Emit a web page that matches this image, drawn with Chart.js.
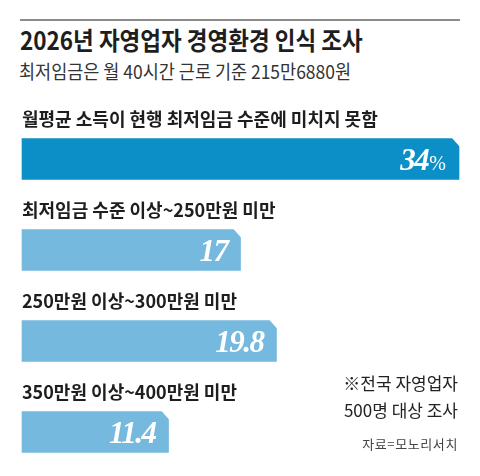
<!DOCTYPE html>
<html><head><meta charset="utf-8">
<script src="https://cdn.jsdelivr.net/npm/chart.js@4/dist/chart.umd.min.js"></script>
<style>
html,body{margin:0;padding:0;background:#fff;width:480px;height:476px;overflow:hidden;font-family:"Noto Sans CJK KR",sans-serif;}
#wrap{position:relative;width:480px;height:476px;}
#rule{position:absolute;left:20px;top:19px;width:440px;height:2px;background:#8c8c8c;}
.t{position:absolute;white-space:nowrap;transform-origin:left top;}
#title{left:20px;top:23px;font-size:25px;font-weight:700;color:#1e1e1e;line-height:33px;transform:scaleX(0.9);}
#sub{left:19px;top:57px;font-size:19px;color:#333;line-height:27px;transform:scaleX(0.92);}
#note{position:absolute;right:22px;top:369px;text-align:right;font-size:17px;line-height:27px;color:#222;}
#src{position:absolute;right:22px;top:434px;font-size:13px;letter-spacing:0.6px;color:#444;}
canvas{position:absolute;left:0;top:0;}
</style></head>
<body><div id="wrap">
<div id="rule"></div>
<div id="title" class="t">2026년 자영업자 경영환경 인식 조사</div>
<div id="sub" class="t">최저임금은 월 40시간 근로 기준 215만6880원</div>
<canvas id="c" width="480" height="476"></canvas>
<div id="note">※전국 자영업자<br>500명 대상 조사</div>
<div id="src">자료=모노리서치</div>
</div>
<script>
const categories = ['월평균 소득이 현행 최저임금 수준에 미치지 못함', '최저임금 수준 이상~250만원 미만', '250만원 이상~300만원 미만', '350만원 이상~400만원 미만'];
const shares = [34, 17, 19.8, 11.4];
const unitOnFirst = '%';

const DARK = '#0b8fc6', LIGHT = '#75b9de';

const valuePlugin = {
  id: 'values',
  beforeDraw(chart) { chart.ctx.letterSpacing = '0px'; },
  afterDatasetsDraw(chart) {
    const c = chart.ctx;
    const meta = chart.getDatasetMeta(0);
    meta.data.forEach((bar, i) => {
      const top = bar.y - bar.height / 2;
      c.save();
      c.fillStyle = '#fff';
      c.beginPath();
      c.moveTo(bar.x - 7.5, top - 1);
      c.lineTo(bar.x + 1, top - 1);
      c.lineTo(bar.x + 1, top + 8.5);
      c.closePath();
      c.fill();
      c.fillStyle = '#fff';
      c.textBaseline = 'alphabetic';
      c.textAlign = 'right';
      let xr = bar.x - 13;
      const base = bar.y + 11;
      if (i === 0) {
        c.font = '20px "Liberation Serif"';
        c.letterSpacing = '0px';
        c.fillText(unitOnFirst, xr, base);
        xr -= c.measureText(unitOnFirst).width + 1;
      }
      c.letterSpacing = '-1.5px';
      c.font = 'italic bold 31px "Liberation Serif"';
      c.fillText(String(shares[i]), xr, base);
      c.restore();
    });
  }
};

new Chart(document.getElementById('c'), {
  type: 'bar',
  data: {
    labels: categories,
    datasets: [{
      data: shares,
      backgroundColor: ctx => ctx.dataIndex === 0 ? DARK : LIGHT,
      barThickness: 41,
      borderWidth: 0,
      clip: false
    }]
  },
  options: {
    indexAxis: 'y',
    responsive: false,
    animation: false,
    events: [],
    layout: { padding: { left: 22, right: 21, top: 159, bottom: 44 } },
    plugins: { legend: { display: false }, tooltip: { enabled: false } },
    scales: {
      x: { display: false, min: 0, max: 34 },
      y: {
        offset: false,
        grid: { display: false, drawTicks: false },
        border: { display: false },
        ticks: {
          mirror: true, padding: 0, labelOffset: -40, autoSkip: false,
          color: '#1e1e1e',
          font: { family: '"Noto Sans CJK KR"', size: 18, weight: 'bold' }
        }
      }
    }
  },
  plugins: [valuePlugin]
});
</script>
</body></html>
